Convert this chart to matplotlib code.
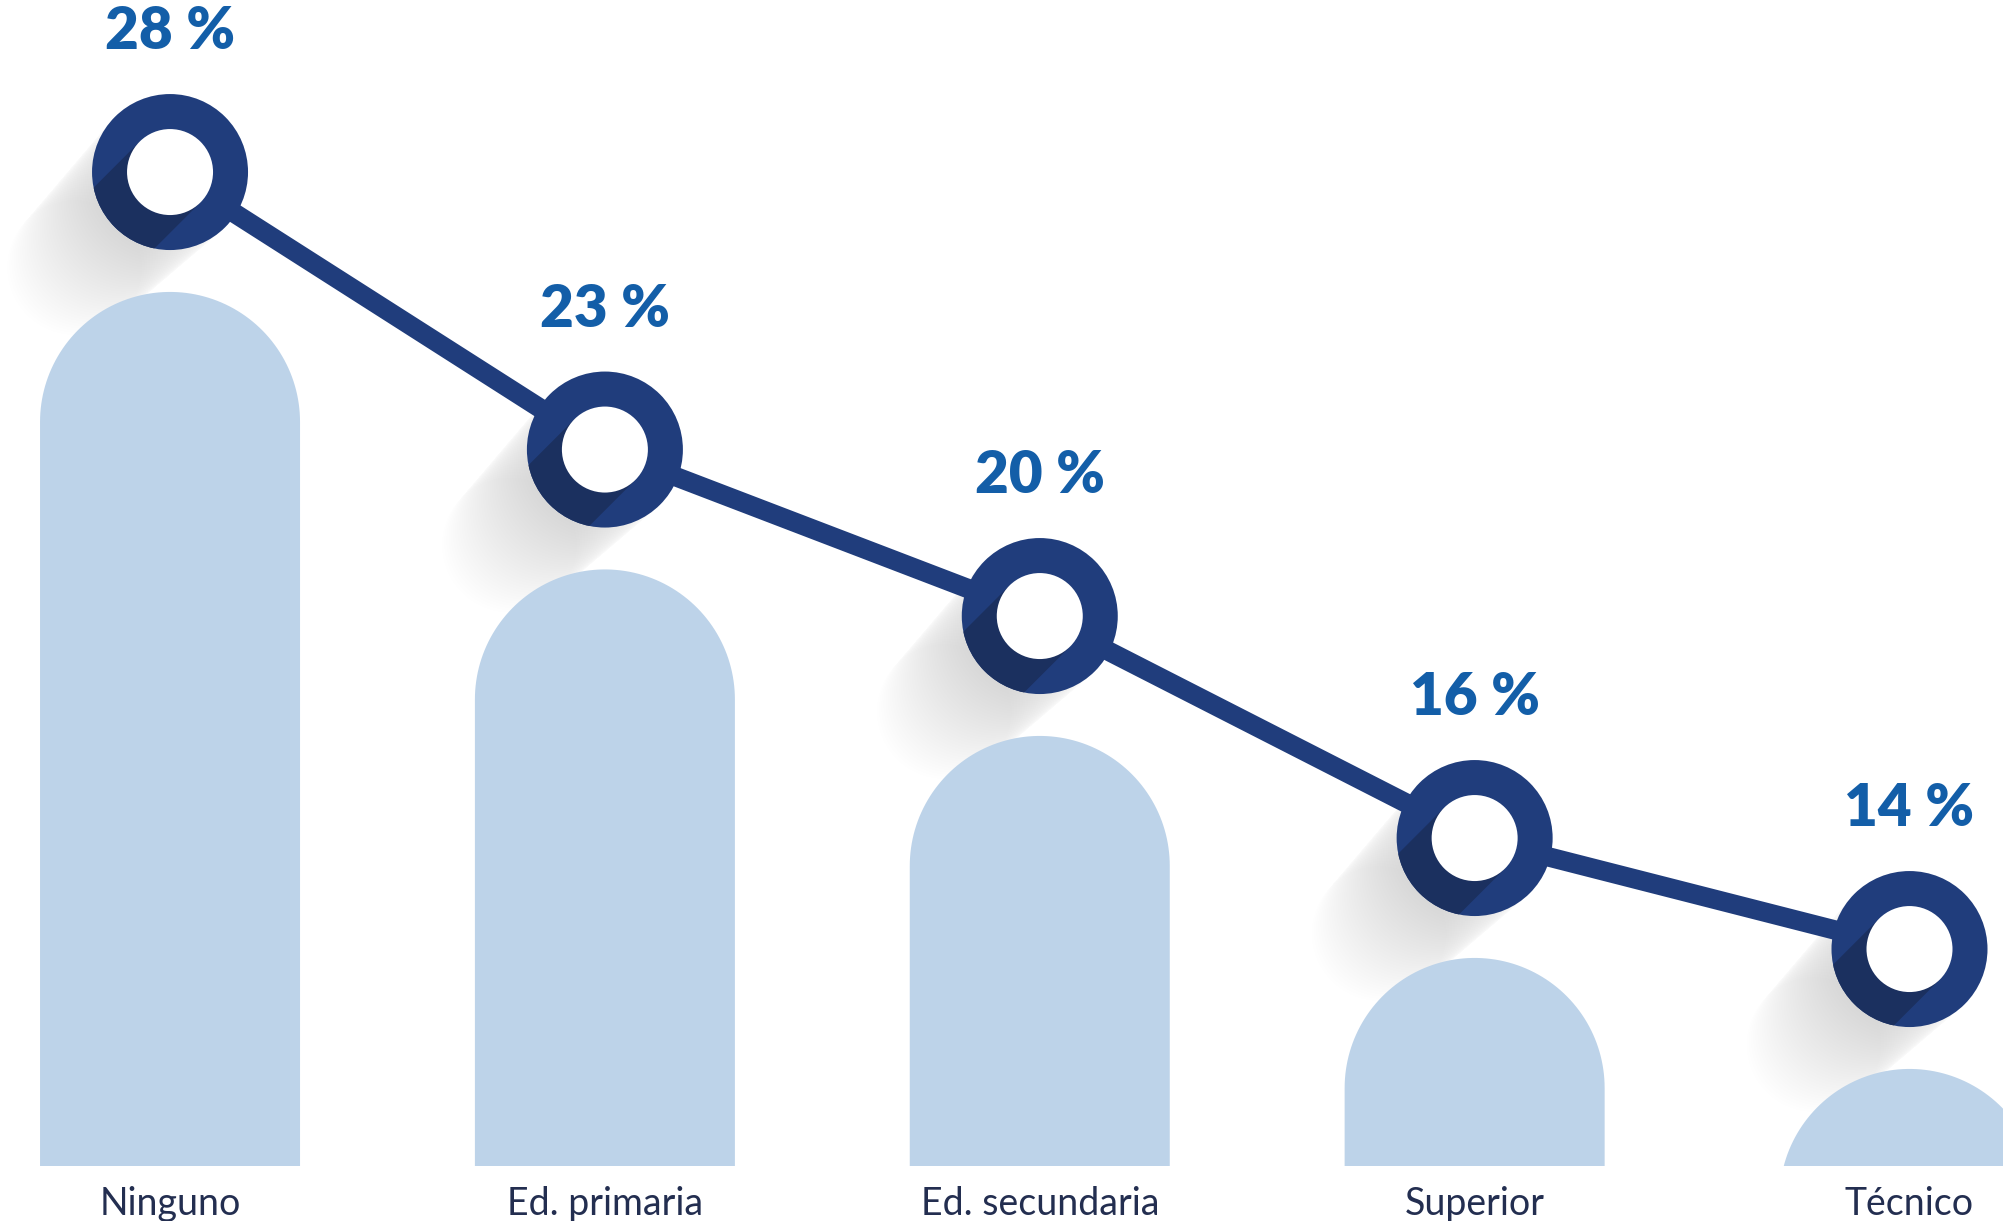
import matplotlib.pyplot as plt
import matplotlib.patches as mpatches
import matplotlib.transforms as mtransforms
import numpy as np

# Nivel educativo y porcentaje
categories = ["Ninguno", "Ed. primaria", "Ed. secundaria", "Superior", "Técnico"]
values = [28, 23, 20, 16, 14]

ring_color = "#203d7c"
band_color = "#1b305f"
bar_color = "#bdd3e9"
label_color = "#135ea8"
cat_color = "#232e50"

W, H, DPI = 2003, 1221, 100
fig = plt.figure(figsize=(W / DPI, H / DPI), dpi=DPI)
ax = fig.add_axes([0, 0, 1, 1])
ax.set_axis_off()

x = np.arange(len(values))
x0, x1 = -0.391, 4.215
y0, y1 = 9.10, 31.10
ax.set_xlim(x0, x1)
ax.set_ylim(y0, y1)

# pixels per data unit, used to keep the rounded tops circular
px_x = W / (x1 - x0)
px_y = H / (y1 - y0)

# rounded columns behind the line
bar_bottom = 10.09
cap_r = 130
rx, ry = cap_r / px_x, cap_r / px_y
theta = np.linspace(0, np.pi, 90)
clip = mpatches.Rectangle((-1, bar_bottom), 10, 50, transform=ax.transData)
for xi, v in zip(x, values):
    body = v - 2.16 - ry
    arc = np.column_stack([xi + rx * np.cos(theta), body + ry * np.sin(theta)])
    base = [[xi - rx, min(body, bar_bottom) - 1], [xi + rx, min(body, bar_bottom) - 1]]
    bar = mpatches.Polygon(np.vstack([arc, base]), closed=True,
                           color=bar_color, lw=0, zorder=2)
    ax.add_patch(bar)
    bar.set_clip_path(clip)

# connecting line
ax.plot(x, values, color=ring_color, lw=14, zorder=3, solid_capstyle="butt")

# ring markers with long shadow
ident = mtransforms.IdentityTransform()
d = np.array([-1.0, -1.0]) / np.sqrt(2)
perp = np.array([-1.0, 1.0]) / np.sqrt(2)
r_out, r_in = 78, 43
for xi, v in zip(x, values):
    c = ax.transData.transform((xi, v))
    for t in np.linspace(0, 135, 40):
        ax.add_patch(mpatches.Circle(c + d * t, r_out - t * 0.08, transform=ident,
                                     color="#808080", alpha=0.009, lw=0, zorder=1))
    ring = mpatches.Circle(c, r_out, transform=ident, color=ring_color, lw=0, zorder=4)
    ax.add_patch(ring)
    band = mpatches.Polygon([c + perp * r_in, c + perp * r_in + d * 300,
                             c - perp * r_in + d * 300, c - perp * r_in],
                            transform=ident, color=band_color, lw=0, zorder=5)
    ax.add_patch(band)
    band.set_clip_path(ring)
    ax.add_patch(mpatches.Circle(c, r_in, transform=ident, color="white", lw=0, zorder=6))

    ax.annotate(f"{v} %", (xi, v), xytext=(0, 88.5), textcoords="offset points",
                ha="center", va="baseline", fontsize=42, fontweight="heavy",
                family="Lato", color=label_color, zorder=7)

for xi, cat in zip(x, categories):
    ax.annotate(cat, (xi, bar_bottom), xytext=(0, -35.3), textcoords="offset points",
                ha="center", va="baseline", fontsize=27, fontweight="normal",
                family="Lato", color=cat_color, annotation_clip=False)

fig.savefig("out.png", dpi=DPI)
